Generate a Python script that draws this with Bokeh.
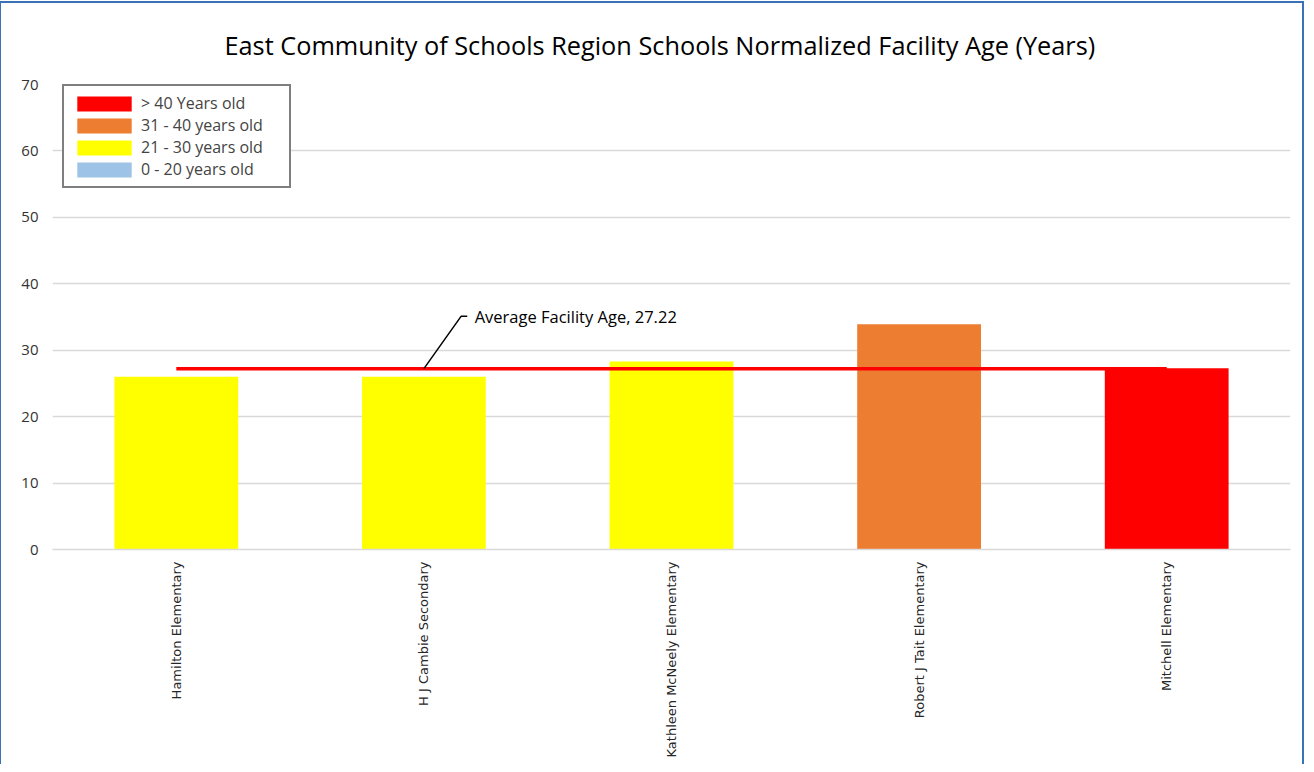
from bokeh.plotting import figure
from bokeh.models import Legend, LegendItem, FixedTicker, Label
from bokeh.embed import file_html
from bokeh.resources import INLINE
import math

title = "East Community of Schools Region Schools Normalized Facility Age (Years)"
schools = ["Hamilton Elementary", "H J Cambie Secondary", "Kathleen McNeely Elementary",
           "Robert J Tait Elementary", "Mitchell Elementary"]
ages = [26.0, 26.0, 28.3, 33.9, 27.3]
age_band = ["21 - 30 years old", "21 - 30 years old", "21 - 30 years old",
            "31 - 40 years old", "> 40 Years old"]
bands = ["> 40 Years old", "31 - 40 years old", "21 - 30 years old", "0 - 20 years old"]
band_colors = ["#FF0000", "#ED7D31", "#FFFF00", "#9DC3E6"]
average_age = 27.22
average_line = [27.22, 27.22, 27.22, 27.22, 27.22]
y_ticks = [0, 10, 20, 30, 40, 50, 60, 70]

p = figure(width=1305, height=763, x_range=schools, y_range=(0, 70),
           output_backend="svg", toolbar_location=None,
           min_border_left=51, min_border_right=16, min_border_top=80, min_border_bottom=217)
p.styles = {"border-left": "2px solid #3A72B8", "border-top": "2px solid #3A72B8",
            "border-right": "2px solid #3A72B8", "box-sizing": "border-box",
            "margin-left": "-1px", "margin-top": "1px"}
p.x_range.range_padding = 0

p.title.text = title
p.title.align = "left"
p.title.offset = 172
p.title.text_font = "Open Sans"
p.title.text_font_size = "25.3px"
p.title.text_font_style = "normal"
p.title.text_color = "#000000"
p.title.standoff = 45

p.outline_line_color = None
p.xgrid.grid_line_color = None
p.ygrid.grid_line_color = "#D9D9D9"
p.ygrid.grid_line_width = 1.5
p.yaxis.ticker = FixedTicker(ticks=y_ticks)
p.yaxis.axis_line_color = None
p.yaxis.major_tick_line_color = None
p.yaxis.minor_tick_line_color = None
p.yaxis.major_label_text_font = "Open Sans"
p.yaxis.major_label_text_font_size = "15px"
p.yaxis.major_label_text_color = "#333333"
p.yaxis.major_label_standoff = 8

p.xaxis.axis_line_color = "#D9D9D9"
p.xaxis.axis_line_width = 1.5
p.xaxis.major_tick_line_color = None
p.xaxis.minor_tick_line_color = None
p.xaxis.major_label_orientation = math.pi / 2
p.xaxis.major_label_text_font = "DejaVu Sans"
p.xaxis.major_label_text_font_size = "13px"
p.xaxis.major_label_text_color = "#262626"
p.xaxis.major_label_standoff = 6

renderers = {}
for band, col in zip(bands, band_colors):
    xs = [s for s, b in zip(schools, age_band) if b == band]
    ts = [a for a, b in zip(ages, age_band) if b == band]
    if not xs:  # legend-only entry: zero-height placeholder
        xs, ts = [schools[0]], [0]
    renderers[band] = p.vbar(x=xs, top=ts, width=0.5, fill_color=col, line_color=None)

p.line(x=schools, y=average_line, line_color="#FF0000", line_width=3.5)

# callout for the average line
i = 1.5  # centre of second category
lx = [i, i + 0.15, i + 0.175]
ly = [average_age, 35.1, 35.1]
p.line(x=lx, y=ly, line_color="#000000", line_width=1.5)
p.add_layout(Label(x=i + 0.205, y=35.1, text="Average Facility Age, 27.22",
                   text_font="Open Sans", text_font_size="16.5px",
                   text_baseline="middle", text_color="#000000"))

legend = Legend(items=[LegendItem(label=b, renderers=[renderers[b]]) for b in bands],
                location=(10, 361), orientation="vertical")
legend.border_line_color = "#000000"
legend.border_line_width = 2
legend.background_fill_color = "#FFFFFF"
legend.background_fill_alpha = 1
legend.glyph_width = 68
legend.glyph_height = 19
legend.label_height = 19
legend.label_width = 142
legend.label_text_font = "Open Sans"
legend.label_text_font_size = "16px"
legend.label_standoff = 3
legend.spacing = 0
legend.padding = 6
legend.margin = 0
p.add_layout(legend, "center")

open("out.html", "w").write(file_html(p, INLINE))
